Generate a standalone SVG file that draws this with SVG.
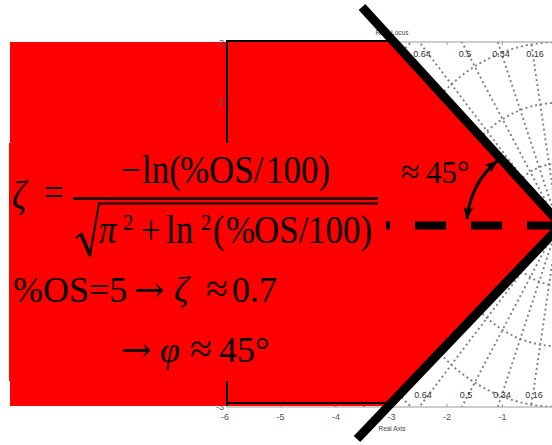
<svg xmlns="http://www.w3.org/2000/svg" width="552" height="445" viewBox="0 0 552 445">
<defs>
<style>
.grid{fill:none;stroke:#808080;stroke-width:1.9;stroke-dasharray:2 3}
.ax{fill:none;stroke:#9a9a9a;stroke-width:1}
.tk{font-family:"Liberation Sans",Arial,sans-serif;font-size:9px;fill:#555}
.zl{font-family:"Liberation Sans",Arial,sans-serif;font-size:9px;fill:#333;text-anchor:middle}
.ttl{font-family:"Liberation Sans",Arial,sans-serif;font-size:6.5px;fill:#444;text-anchor:middle}
.m{font-family:"Liberation Serif","Times New Roman",serif;font-size:35px;fill:#000}
.sup{font-family:"Liberation Serif","Times New Roman",serif;font-size:21px;fill:#000}
.mi{font-style:italic}
.big{font-family:"Liberation Serif","Times New Roman",serif;font-size:36px;fill:#000}
.arr{font-family:"DejaVu Serif",serif;font-size:36px;fill:#000}
.apx{font-family:"Liberation Serif","Times New Roman",serif;font-size:40px;fill:#000}
.brk{fill:none;stroke:#000;stroke-width:2}
.diag{stroke:#000;stroke-width:9;stroke-linecap:butt}
</style>
<clipPath id="plotclip"><rect x="226" y="42" width="340" height="365"/></clipPath>
<marker id="ah" viewBox="0 0 13 10" refX="12" refY="5" markerWidth="13" markerHeight="10" markerUnits="userSpaceOnUse" orient="auto-start-reverse">
<path d="M0,0 L13,5 L0,10 L3,5 z" fill="#000"/>
</marker>
</defs>
<rect width="552" height="445" fill="#fff"/>

<g id="plot">
<g clip-path="url(#plotclip)">
<g class="grid">
<ellipse cx="558" cy="224.5" rx="55.5" ry="60.83"/>
<ellipse cx="558" cy="224.5" rx="111" ry="121.66"/>
<ellipse cx="558" cy="224.5" rx="166.5" ry="182.5"/>
<ellipse cx="558" cy="224.5" rx="222" ry="243.3"/>
<ellipse cx="558" cy="224.5" rx="277.5" ry="304.2"/>
<ellipse cx="558" cy="224.5" rx="333" ry="365"/>
<path d="M558,224.5 L487,-256 M558,224.5 L487,705 M558,224.5 L407,-233 M558,224.5 L407,682 M558,224.5 L336,-197 M558,224.5 L336,646 M558,224.5 L273.8,-149.4 M558,224.5 L273.8,598.4 M558,224.5 L220.6,-91.8 M558,224.5 L220.6,540.8 M558,224.5 L176.2,-23.8 M558,224.5 L176.2,472.8 M558,224.5 L140.6,58.5 M558,224.5 L140.6,390.5 M558,224.5 L120.7,140.5 M558,224.5 L120.7,308.5"/>
</g>
</g>
<path class="ax" d="M226,42 H552 M226,407 H552 M280.5,407 v-3 M336,407 v-3 M391.5,407 v-3 M447,407 v-3 M502.5,407 v-3 M280.5,42 v3 M336,42 v3 M391.5,42 v3 M447,42 v3 M502.5,42 v3"/>
<text class="ttl" x="392" y="35">Root Locus</text>
<text class="ttl" x="392" y="431">Real Axis</text>
<g class="tk" text-anchor="middle">
<text x="225" y="420">-6</text>
<text x="280.5" y="420">-5</text>
<text x="336" y="420">-4</text>
<text x="391.5" y="420">-3</text>
<text x="447" y="420">-2</text>
<text x="502.5" y="420">-1</text>
</g>
<text class="tk" x="224" y="410" text-anchor="end">-3</text>
<text class="zl" x="422" y="57">0.64</text>
<text class="zl" x="465" y="57">0.5</text>
<text class="zl" x="501" y="57">0.34</text>
<text class="zl" x="535" y="57">0.16</text>
<text class="zl" x="423" y="398">0.64</text>
<text class="zl" x="466" y="398">0.5</text>
<text class="zl" x="502" y="398">0.34</text>
<text class="zl" x="534" y="398">0.16</text>
</g>

<g id="red-region">
<polygon points="10,42 394,42 562,225 388,406 10,406" fill="#ff0000"/>
<path class="brk" d="M227,406 V41 H396 M227,403 H390"/>
<text class="tk" x="224" y="46" text-anchor="end">3</text>
<text class="tk" x="224" y="105" text-anchor="end">2</text>
</g>

<g id="connectors">
<line x1="359" y1="225.5" x2="566" y2="225.5" stroke="#000" stroke-width="8" stroke-dasharray="31 25"/>
</g>

<g id="formula">
<rect x="9" y="143" width="377" height="238" fill="#ff0000"/>
<g transform="scale(1,1.12)">
<text class="m mi" x="12" y="185.7">ζ</text>
<text class="m" x="44" y="184">=</text>
<text class="m" y="163.4"><tspan x="121">−</tspan><tspan x="142">ln(</tspan><tspan x="180">%</tspan><tspan x="209">OS/</tspan><tspan x="266">100)</tspan></text>
<text class="m" y="217"><tspan x="99" font-style="italic">π</tspan></text>
<text class="m" y="217"><tspan x="141">+</tspan><tspan x="166">ln</tspan></text>
<text class="m" y="217"><tspan x="213">(</tspan><tspan x="226">%</tspan><tspan x="254">OS/</tspan><tspan x="308">100)</tspan></text>
<text class="sup" x="123" y="205.4">2</text>
<text class="sup" x="201" y="205.4">2</text>
</g>
<line x1="73" y1="198.5" x2="378" y2="198.5" stroke="#000" stroke-width="2.5"/>
<path d="M76,238 L81,234 L90,255 L99,203.5 H378" fill="none" stroke="#000" stroke-width="2" stroke-linejoin="miter"/>
<path d="M81,234 L90,255" stroke="#000" stroke-width="3.5"/>
<text class="big" x="13" y="302">%OS=5</text>
<text class="arr" x="134" y="302">→</text>
<text class="big mi" x="174" y="302">ζ</text>
<text class="apx" x="206" y="302">≈</text>
<text class="big" x="232" y="302">0.7</text>
<text class="arr" x="121" y="362">→</text>
<text class="big mi" x="160" y="362">φ</text>
<text class="apx" x="190" y="362">≈</text>
<text class="big" x="219" y="362">45°</text>
</g>

<g id="asymptotes">
<line class="diag" x1="362" y1="7" x2="564" y2="228"/>
<line class="diag" x1="357" y1="439" x2="564" y2="222"/>
</g>

<g id="angle">
<path d="M497,161 A 88 88 0 0 0 467,219" fill="none" stroke="#000" stroke-width="3" marker-start="url(#ah)" marker-end="url(#ah)"/>
<text x="401" y="183" font-family="Liberation Serif,'Times New Roman',serif" font-size="34" fill="#000">≈</text>
<text x="426" y="183" font-family="Liberation Serif,'Times New Roman',serif" font-size="31" fill="#000">45°</text>
</g>
</svg>
